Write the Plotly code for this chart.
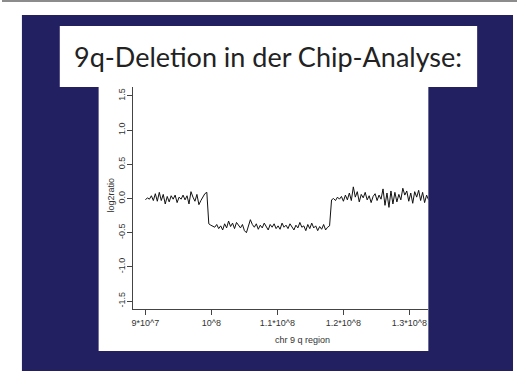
import plotly.graph_objects as go

W, H = 517, 383

# ---- data (positions in Mb, log2 ratios) ----
pos_normal_left = [90.0, 90.3, 90.6, 90.9, 91.2, 91.5, 91.8, 92.1, 92.4, 92.7,
                   93.0, 93.3, 93.6, 93.9, 94.2, 94.5, 94.8, 95.1, 95.4, 95.7,
                   96.0, 96.3, 96.6, 96.9, 97.2, 97.5, 97.8, 98.1, 98.4, 98.7,
                   99.0, 99.3]
val_normal_left = [-0.02, 0.01, -0.01, 0.04, -0.03, 0.07, -0.04, 0.09, -0.03, 0.06,
                   -0.08, 0.03, -0.05, 0.04, -0.01, 0.05, -0.06, 0.02, -0.01, 0.05,
                   -0.02, 0.04, -0.08, 0.10, 0.02, -0.04, 0.06, -0.09, -0.03, 0.03,
                   0.07, 0.09]

pos_deleted = [99.6, 99.9, 100.2, 100.5, 100.8, 101.1, 101.4, 101.7, 102.0, 102.3,
               102.6, 102.9, 103.2, 103.5, 103.8, 104.1, 104.4, 104.7, 105.0, 105.3,
               105.6, 105.9, 106.2, 106.5, 106.8, 107.1, 107.4, 107.7, 108.0, 108.3,
               108.6, 108.9, 109.2, 109.5, 109.8, 110.1, 110.4, 110.7, 111.0, 111.3,
               111.6, 111.9, 112.2, 112.5, 112.8, 113.1, 113.4, 113.7, 114.0, 114.3,
               114.6, 114.9, 115.2, 115.5, 115.8, 116.1, 116.4, 116.7, 117.0, 117.3,
               117.6, 117.9]
val_deleted = [-0.37, -0.39, -0.40, -0.42, -0.38, -0.44, -0.40, -0.46, -0.37, -0.43,
               -0.33, -0.41, -0.36, -0.44, -0.35, -0.39, -0.43, -0.38, -0.47, -0.50,
               -0.40, -0.31, -0.38, -0.42, -0.37, -0.45, -0.39, -0.43, -0.36, -0.41,
               -0.46, -0.38, -0.42, -0.37, -0.44, -0.40, -0.45, -0.36, -0.42, -0.39,
               -0.44, -0.37, -0.41, -0.46, -0.39, -0.43, -0.35, -0.42, -0.40, -0.47,
               -0.38, -0.44, -0.36, -0.43, -0.40, -0.47, -0.41, -0.45, -0.38, -0.46,
               -0.42, -0.40]

pos_normal_right = [118.2, 118.5, 118.8, 119.1, 119.4, 119.7, 120.0, 120.3, 120.6, 120.9,
                    121.2, 121.5, 121.8, 122.1, 122.4, 122.7, 123.0, 123.3, 123.6, 123.9,
                    124.2, 124.5, 124.8, 125.1, 125.4, 125.7, 126.0, 126.3, 126.6, 126.9,
                    127.2, 127.5, 127.8, 128.1, 128.4, 128.7, 129.0, 129.3, 129.6, 129.9,
                    130.2, 130.5, 130.8, 131.1, 131.4, 131.7, 132.0, 132.3, 132.6, 132.9]
val_normal_right = [-0.02, 0.00, -0.03, 0.02, -0.01, 0.03, -0.04, 0.05, -0.02, 0.08,
                    -0.03, 0.17, 0.02, 0.10, -0.05, 0.06, 0.01, 0.09, -0.02, 0.04,
                    -0.06, 0.03, 0.07, -0.03, 0.05, -0.01, 0.14, -0.10, 0.08, -0.13,
                    0.11, -0.08, 0.09, -0.05, 0.06, -0.02, 0.15, 0.05, 0.11, -0.04,
                    0.08, -0.07, 0.10, 0.02, 0.12, -0.03, 0.09, -0.06, 0.05, -0.02]

x_tick_vals = [90, 100, 110, 120, 130]
x_tick_text = ["9*10^7", "10^8", "1.1*10^8", "1.2*10^8", "1.3*10^8"]
y_tick_vals = [-1.5, -1.0, -0.5, 0.0, 0.5, 1.0, 1.5]
y_tick_text = ["-1.5", "-1.0", "-0.5", "0.0", "0.5", "1.0", "1.5"]

title_text = "9q-Deletion in der Chip-Analyse:"
x_label = "chr 9 q region"
y_label = "log2ratio"

x_all = pos_normal_left + pos_deleted + pos_normal_right
y_all = val_normal_left + val_deleted + val_normal_right

NAVY = "#232062"

def px(x):
    return x / W

def py(y):
    return 1 - y / H

fig = go.Figure()
fig.add_trace(go.Scatter(x=x_all, y=y_all, mode="lines",
                         line=dict(color="#111111", width=1),
                         hoverinfo="skip", showlegend=False))

shapes = [
    dict(type="line", xref="paper", yref="paper", x0=0, x1=1, y0=py(1), y1=py(1),
         line=dict(color="#666666", width=1.5), layer="below"),
    dict(type="rect", xref="paper", yref="paper", x0=px(20), x1=px(513), y0=py(15), y1=py(371),
         fillcolor=NAVY, line=dict(width=0), layer="below"),
    dict(type="rect", xref="paper", yref="paper", x0=px(58), x1=px(477), y0=py(26), y1=py(87),
         fillcolor="white", line=dict(width=0), layer="below"),
    dict(type="rect", xref="paper", yref="paper", x0=px(97), x1=px(428), y0=py(86), y1=py(351),
         fillcolor="white", line=dict(width=0), layer="below"),
]

annotations = [
    dict(text=title_text, xref="paper", yref="paper", x=px(267), y=py(57),
         xanchor="center", yanchor="middle", showarrow=False,
         font=dict(family="Lato", size=27, color="#222222")),
    dict(text=x_label, xref="paper", yref="paper", x=px(302), y=py(340),
         xanchor="center", yanchor="middle", showarrow=False,
         font=dict(family="Liberation Sans", size=9, color="#333333")),
    dict(text=y_label, xref="paper", yref="paper", x=px(109), y=py(195),
         xanchor="center", yanchor="middle", showarrow=False, textangle=-90,
         font=dict(family="Liberation Sans", size=9, color="#333333")),
]

x_left, x_right = 132, 428
y_top, y_bottom = 87, 309
# data <-> pixel mapping
xr0 = 90 + (x_left - 144) / 66.25 * 10
xr1 = 90 + (x_right - 144) / 66.25 * 10
yr0 = (198.5 - y_bottom) / 68.4
yr1 = (198.5 - y_top) / 68.4

fig.update_layout(
    width=W, height=H, autosize=False,
    margin=dict(l=0, r=0, t=0, b=0),
    paper_bgcolor="white", plot_bgcolor="rgba(0,0,0,0)",
    shapes=shapes, annotations=annotations,
    xaxis=dict(domain=[px(x_left), px(x_right)], range=[xr0, xr1],
               showgrid=False, zeroline=False, showline=True, linecolor="#444444", linewidth=1,
               ticks="outside", ticklen=5, tickcolor="#444444", tickwidth=1,
               tickvals=x_tick_vals, ticktext=x_tick_text,
               tickfont=dict(family="Liberation Sans", size=9, color="#333333")),
    yaxis=dict(domain=[py(y_bottom), py(y_top)], range=[yr0, yr1],
               showgrid=False, zeroline=False, showline=True, linecolor="#444444", linewidth=1,
               ticks="outside", ticklen=5, tickcolor="#444444", tickwidth=1,
               tickvals=y_tick_vals, ticktext=y_tick_text, tickangle=-90,
               ticklabelstandoff=-1,
               tickfont=dict(family="Liberation Sans", size=9, color="#333333")),
)

fig.write_html("out.html", config={"displayModeBar": False},
               post_script="document.body.style.margin='0';document.body.style.overflow='hidden';")
